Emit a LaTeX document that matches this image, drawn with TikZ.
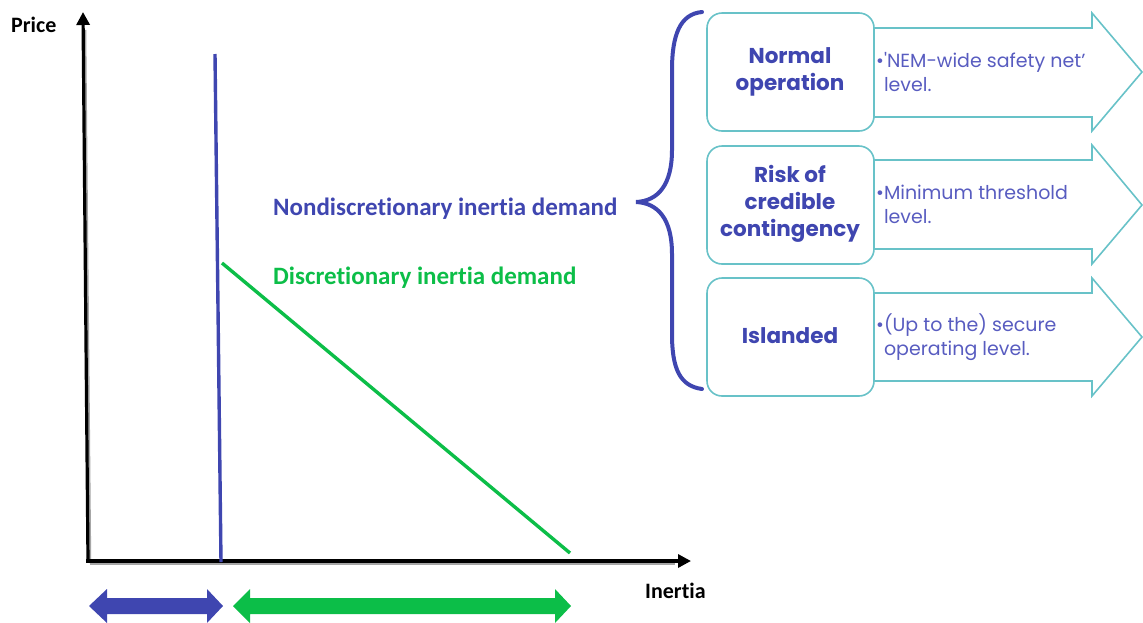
\documentclass[tikz,border=0pt]{standalone}
\usepackage{fontspec}
\setmainfont{Carlito}[Ligatures=NoCommon]
\newfontfamily\geo{Poppins}
\usetikzlibrary{arrows.meta}
\definecolor{indigo}{RGB}{63,70,176}
\definecolor{lightindigo}{RGB}{88,92,192}
\definecolor{leaf}{RGB}{12,190,72}
\definecolor{teal}{RGB}{104,194,200}
\tikzset{
  axis/.style={line width=3.2pt, -{Triangle[length=13pt,width=13pt]}},
  axisshadow/.style={line width=2.5pt, black!35},
  demand/.style={line width=3.4pt},
  curvelabel/.style={font=\bfseries\fontsize{25}{30}\selectfont, anchor=base west, inner sep=0pt},
  axislabel/.style={font=\bfseries\fontsize{22}{26}\selectfont, anchor=base west, inner sep=0pt},
  statebox/.style={draw=teal, line width=1.6pt, fill=white, rounded corners=15pt},
  stateframe/.style={draw=teal, line width=1.6pt, line join=miter},
  statetitle/.style={font=\geo\bfseries\fontsize{21.5}{27}\selectfont, text=indigo, align=center, inner sep=0pt},
  stateinfo/.style={font=\geo\fontsize{19}{24}\selectfont, text=lightindigo, align=left, anchor=west, inner sep=0pt}
}
\begin{document}
\begin{tikzpicture}[x=1pt,y=-1pt]
\useasboundingbox (0,0) rectangle (1143,622);

% axes
\coordinate (origin) at (88,561);
\coordinate (ytop) at (83,12);
\coordinate (xend) at (691,561);
\draw[axisshadow] (90,563) -- (85,30);
\draw[axisshadow] (90,564) -- (675,564);
\draw[axis] (origin) -- (ytop);
\draw[axis] ([xshift=-1.6pt]origin) -- (xend);
\node[axislabel] (price) at (11,32) {Price};
\node[axislabel] (inertia) at (645,598) {Inertia};

% demand curves
\coordinate (ndtop) at (215,54);
\coordinate (ndbot) at (221,562);
\coordinate (dtop) at (222,263);
\coordinate (dbot) at (570,553);
\draw[demand, indigo] (ndtop) -- (ndbot);
\draw[demand, leaf] (dtop) -- (dbot);
\node[curvelabel, text=indigo] (ndlabel) at (273,215) {Nondiscretionary inertia demand};
\node[curvelabel, text=leaf] (dlabel) at (273,284) {Discretionary inertia demand};

% brace
\draw[indigo, line width=4pt, line cap=round]
  (702,12) .. controls (680,14) and (672,35) .. (672,70)
  -- (672,150) .. controls (672,185) and (658,201) .. (636,202)
  .. controls (658,203) and (672,219) .. (672,254)
  -- (672,334) .. controls (672,369) and (680,386) .. (702,389);

% operating states: arrow frames
\draw[stateframe] (874,28) -- (1092,28) -- (1092,13) -- (1142,72) -- (1092,131) -- (1092,117) -- (874,117);
\draw[stateframe] (874,160) -- (1092,160) -- (1092,145) -- (1142,205) -- (1092,264) -- (1092,249) -- (874,249);
\draw[stateframe] (874,293) -- (1092,293) -- (1092,278) -- (1142,337) -- (1092,396) -- (1092,381) -- (874,381);

% operating states: boxes
\draw[statebox] (707,13) rectangle (874,131);
\draw[statebox] (707,146) rectangle (874,264);
\draw[statebox] (707,278) rectangle (874,396);
\node[statetitle] (normal) at (790,72) {Normal\\operation};
\node[statetitle] (risk) at (790,204) {Risk of\\credible\\contingency};
\node[statetitle] (island) at (790,336) {Islanded};
\node[stateinfo] (normalinfo) at (876,72) {•{\char"27}NEM-wide safety net’\\\phantom{•}level.};
\node[stateinfo] (riskinfo) at (876,204) {•Minimum threshold\\\phantom{•}level.};
\node[stateinfo] (islandinfo) at (876,337) {•(Up to the) secure\\\phantom{•}operating level.};

% spans under the inertia axis
\fill[indigo] (89,606) -- (107,589) -- (107,598) -- (207,598) -- (207,589) -- (223,606)
  -- (207,623) -- (207,614) -- (107,614) -- (107,623) -- cycle;
\fill[leaf] (233,606) -- (250,589) -- (250,598) -- (555,598) -- (555,589) -- (571,606)
  -- (555,623) -- (555,614) -- (250,614) -- (250,623) -- cycle;
\end{tikzpicture}
\end{document}
